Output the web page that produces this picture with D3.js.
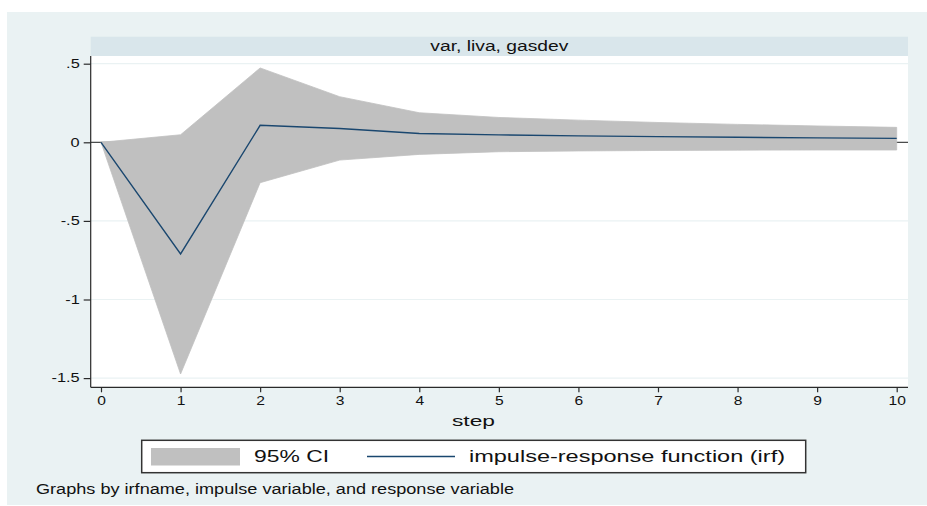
<!DOCTYPE html>
<html lang="en">
<head>
    <meta charset="UTF-8">
    <title>irf graph</title>
    <script src="https://d3js.org/d3.v7.min.js"></script>
    <style>
        body { margin: 0; background: #fff; }
        svg text { font-family: "Liberation Sans", Arial, sans-serif; fill: #111; }
        .axis path, .axis line { stroke: #2a2a2a; stroke-width: 1.2; }
        .axis text { font-size: 12px; }
    </style>
</head>
<body>
<div id="chart"></div>
<script>
    // data
    const steps = [0, 1, 2, 3, 4, 5, 6, 7, 8, 9, 10];
    const irf = [0, -0.71, 0.108, 0.088, 0.056, 0.047, 0.041, 0.036, 0.032, 0.028, 0.025];
    const ciUpper = [0, 0.048, 0.473, 0.29, 0.188, 0.158, 0.141, 0.126, 0.114, 0.104, 0.095];
    const ciLower = [0, -1.474, -0.257, -0.113, -0.077, -0.06, -0.055, -0.052, -0.05, -0.049, -0.049];
    const yTicks = [0.5, 0, -0.5, -1, -1.5];
    const yTickLabels = [".5", "0", "-.5", "-1", "-1.5"];
    const title = "var, liva, gasdev";
    const xTitle = "step";
    const legendLabels = ["95% CI", "impulse-response function (irf)"];
    const note = "Graphs by irfname, impulse variable, and response variable";

    const width = 927, height = 506;
    const bandColor = "#c0c0c0";
    const lineColor = "#1a476f";

    // the source picture has its text a bit wide, so stretch glyphs sideways
    function stretch(sel, k) {
        sel.each(function () {
            const w = this.getComputedTextLength();
            d3.select(this).attr("textLength", w * k).attr("lengthAdjust", "spacingAndGlyphs");
        });
    }

    const svg = d3.select("#chart").append("svg")
        .attr("width", width)
        .attr("height", height);

    // outer graph region
    svg.append("rect")
        .attr("x", 7).attr("y", 12)
        .attr("width", 920).attr("height", 493)
        .attr("fill", "#eaf2f3");

    const plot = { left: 90.7, right: 908, top: 56, bottom: 387.3 };

    // title strip
    svg.append("rect")
        .attr("x", plot.left).attr("y", 36.7)
        .attr("width", plot.right - plot.left).attr("height", 19.3)
        .attr("fill", "#d9e6eb");
    svg.append("text")
        .attr("x", (plot.left + plot.right) / 2).attr("y", 50.5)
        .attr("text-anchor", "middle")
        .attr("textLength", 138).attr("lengthAdjust", "spacingAndGlyphs")
        .style("font-size", "14px")
        .text(title);

    // plot region
    svg.append("rect")
        .attr("x", plot.left).attr("y", plot.top)
        .attr("width", plot.right - plot.left).attr("height", plot.bottom - plot.top)
        .attr("fill", "#fff");

    const x = d3.scaleLinear().domain([0, 10]).range([101, 896.7]);
    const y = d3.scaleLinear().domain([-1.5, 0.5]).range([378.1, 63.7]);

    // grid
    svg.append("g")
        .selectAll("line")
        .data(yTicks)
        .join("line")
        .attr("x1", plot.left).attr("x2", plot.right)
        .attr("y1", d => y(d)).attr("y2", d => y(d))
        .attr("stroke", "#eaf2f3")
        .attr("stroke-width", 1.2);

    // zero line
    svg.append("line")
        .attr("x1", plot.left).attr("x2", plot.right)
        .attr("y1", y(0)).attr("y2", y(0))
        .attr("stroke", "#222")
        .attr("stroke-width", 1);

    // CI band
    const area = d3.area()
        .x((d, i) => x(steps[i]))
        .y0((d, i) => y(ciLower[i]))
        .y1((d, i) => y(ciUpper[i]));
    svg.append("path")
        .datum(steps)
        .attr("d", area)
        .attr("fill", bandColor)
        .attr("stroke", bandColor)
        .attr("stroke-width", 0.8);

    // irf line
    const line = d3.line()
        .x((d, i) => x(steps[i]))
        .y((d, i) => y(irf[i]));
    svg.append("path")
        .datum(steps)
        .attr("d", line)
        .attr("fill", "none")
        .attr("stroke", lineColor)
        .attr("stroke-width", 1.4);

    // axes
    const yAxis = svg.append("g")
        .attr("class", "axis")
        .attr("transform", `translate(${plot.left},0)`)
        .call(d3.axisLeft(y).tickValues(yTicks).tickSize(7).tickPadding(4)
            .tickFormat((d, i) => yTickLabels[i]));
    yAxis.select(".domain").attr("d", `M0,${plot.top}V${plot.bottom}`);
    stretch(yAxis.selectAll("text"), 1.36);

    const xAxis = svg.append("g")
        .attr("class", "axis")
        .attr("transform", `translate(0,${plot.bottom})`)
        .call(d3.axisBottom(x).tickValues(steps).tickSize(5).tickPadding(4)
            .tickFormat(d3.format("d")));
    xAxis.select(".domain").attr("d", `M${plot.left},0H${plot.right}`);
    stretch(xAxis.selectAll("text"), 1.3);

    svg.append("text")
        .attr("x", 473.5).attr("y", 426)
        .attr("text-anchor", "middle")
        .attr("textLength", 43).attr("lengthAdjust", "spacingAndGlyphs")
        .style("font-size", "15.5px")
        .text(xTitle);

    // legend
    const lg = svg.append("g");
    lg.append("rect")
        .attr("x", 141.7).attr("y", 440.3)
        .attr("width", 664).attr("height", 32.4)
        .attr("fill", "#fff")
        .attr("stroke", "#333")
        .attr("stroke-width", 1.5);
    lg.append("rect")
        .attr("x", 151).attr("y", 448)
        .attr("width", 89).attr("height", 17.5)
        .attr("fill", bandColor);
    lg.append("text")
        .attr("x", 254).attr("y", 462)
        .attr("textLength", 75).attr("lengthAdjust", "spacingAndGlyphs")
        .style("font-size", "16px")
        .text(legendLabels[0]);
    lg.append("line")
        .attr("x1", 367).attr("x2", 455)
        .attr("y1", 456.5).attr("y2", 456.5)
        .attr("stroke", lineColor)
        .attr("stroke-width", 1.4);
    lg.append("text")
        .attr("x", 469).attr("y", 462)
        .attr("textLength", 316).attr("lengthAdjust", "spacingAndGlyphs")
        .style("font-size", "16px")
        .text(legendLabels[1]);

    // note
    svg.append("text")
        .attr("x", 36).attr("y", 494)
        .attr("textLength", 478).attr("lengthAdjust", "spacingAndGlyphs")
        .style("font-size", "14px")
        .text(note);
</script>
</body>
</html>
